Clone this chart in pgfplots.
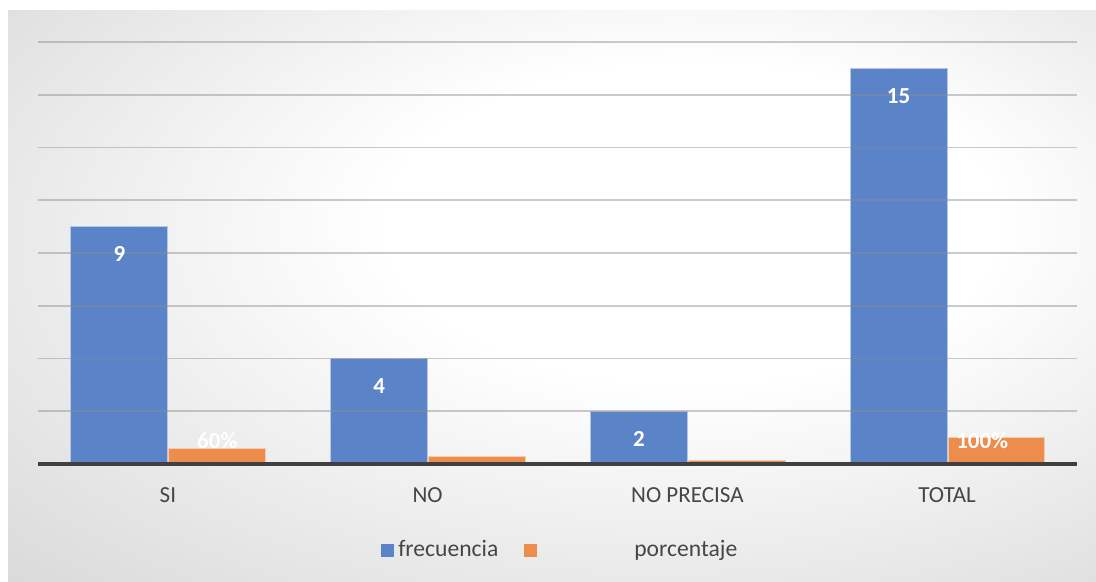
\documentclass[border=0pt]{standalone}
\usepackage{pgfplots}
\pgfplotsset{compat=1.18}
\usepackage{fontspec}
\setmainfont{Carlito}
\definecolor{barblue}{RGB}{91,132,200}
\definecolor{barorange}{RGB}{236,140,77}
\definecolor{txtgray}{RGB}{70,70,70}
\definecolor{gridgray}{RGB}{140,140,140}
\definecolor{axisdark}{RGB}{64,64,64}
\pgfdeclareradialshading{chartbg}{\pgfpoint{8bp}{8bp}}{color(0bp)=(white); color(14bp)=(white); color(50bp)=(gray!40); color(71bp)=(gray!52)}
\begin{document}
\fontsize{11.5}{13.8}\selectfont
\begin{tikzpicture}
\useasboundingbox (0pt,0pt) rectangle (548pt,291pt);
\shade[shading=chartbg] (4pt,0pt) rectangle (548pt,285.5pt);
\begin{axis}[
  at={(19pt,59pt)}, anchor=south west,
  scale only axis, width=519.5pt, height=211pt,
  xmin=-0.5, xmax=3.5, ymin=0, ymax=16,
  xtick={0,1,2,3}, xticklabels={SI,NO,NO PRECISA,TOTAL},
  ytick={0,2,...,16}, yticklabels={},
  ymajorgrids, grid style={gridgray, opacity=0.45, line width=0.8pt},
  major tick length=0pt,
  axis on top,
  axis x line*=bottom, axis y line*=left,
  x axis line style={axisdark, line width=2pt, -},
  y axis line style={draw=none},
  tick label style={text=txtgray, font=\fontsize{11.5}{13.8}\selectfont},
  every x tick label/.append style={yshift=-8pt},
  /pgf/number format/assume math mode=true,
  legend columns=2,
  legend style={at={(0.330,-0.204)}, anchor=west, draw=none, fill=none, inner sep=0pt,
    font=\fontsize{11.8}{14}\selectfont, text=txtgray,
    /tikz/every even column/.append style={column sep=11pt}},
]
\addplot[ybar, bar width=0.373, bar shift=-0.1865, fill=barblue, draw=white!55!barblue, line width=0.5pt,
  legend image code/.code={\fill[barblue] (0pt,-3pt) rectangle (6pt,3pt);},
  nodes near coords,
  every node near coord/.append style={font=\fontsize{11.5}{13.8}\selectfont\bfseries, text=white, anchor=center, xshift=-24.25pt, yshift=-13.75pt}]
  coordinates {(0,9) (1,4) (2,2) (3,15)};
\addlegendentry{frecuencia}
\addplot[ybar, bar width=0.373, bar shift=0.19, fill=barorange, draw=white!55!barorange, line width=0.5pt,
  legend image code/.code={\fill[barorange] (0pt,-3pt) rectangle (6pt,3pt);}]
  coordinates {(0,0.6) (1,0.27) (2,0.13) (3,1)};
\addlegendentry{\hspace*{46.5pt}porcentaje}
\addplot[draw=none, mark=none, forget plot, nodes near coords, point meta=explicit symbolic,
  every node near coord/.append style={font=\fontsize{11.5}{13.8}\selectfont\bfseries, text=white, anchor=center}]
  coordinates {(0.19,0.883) [60\%] (3.135,0.883) [100\%]};
\end{axis}
\end{tikzpicture}
\end{document}
